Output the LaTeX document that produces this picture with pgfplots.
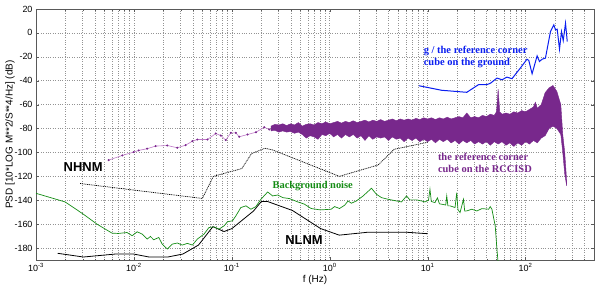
\documentclass[border=0pt]{standalone}
\usepackage{fontspec}
\setmainfont{Liberation Sans}
\newfontfamily\tnr{Liberation Serif}
\usepackage{pgfplots}
\pgfplotsset{compat=1.18}
\definecolor{mgreen}{RGB}{20,140,20}
\definecolor{mblue}{RGB}{10,30,240}
\definecolor{mpurple}{RGB}{120,40,140}
\definecolor{lpurple}{RGB}{190,120,200}
\begin{document}
\begin{tikzpicture}
\begin{axis}[
  scale only axis, width=558bp, height=251bp,
  xmode=log, xmin=1e-3, xmax=500, ymin=-190, ymax=20,
  xtick={0.001,0.01,0.1,1,10,100},
  xticklabels={10\textsuperscript{-3},10\textsuperscript{-2},10\textsuperscript{-1},10\textsuperscript{0},10\textsuperscript{1},10\textsuperscript{2}},
  minor xtick={0.002,0.003,0.004,0.005,0.006,0.007,0.008,0.009,0.02,0.03,0.04,0.05,0.06,0.07,0.08,0.09,0.2,0.3,0.4,0.5,0.6,0.7,0.8,0.9,2,3,4,5,6,7,8,9,20,30,40,50,60,70,80,90,200,300,400},
  ytick={-180,-160,-140,-120,-100,-80,-60,-40,-20,0,20},
  yticklabels={-180,-160,-140,-120,-100,-80,-60,-40,-20,0,20},
  xmajorgrids, xminorgrids, ymajorgrids,
  major grid style={dotted, gray!85, line width=0.5pt},
  minor grid style={dotted, gray!85, line width=0.5pt},
  axis line style={gray!70!black},
  tick style={gray!70!black},
  tick align=inside,
  major tick length=3bp, minor tick length=1.5bp,
  ticklabel style={font=\fontsize{9}{10}\selectfont},
  xlabel={f (Hz)}, ylabel={PSD [10*LOG M**2/S**4/Hz] (dB)},
  label style={font=\fontsize{9}{10}\selectfont},
  every axis x label/.style={at={(axis description cs:0.5,0)}, anchor=center, yshift=-20bp},
  every axis y label/.style={at={(axis description cs:0,0.5)}, xshift=-26bp, rotate=90, anchor=center},
]
% NLNM
\addplot[black, line width=0.8pt] coordinates {
(0.001667,-184.4) (0.003049,-187.5) (0.006494,-185.0) (0.009901,-185.0) (0.014286,-187.5)
(0.022222,-187.5) (0.031646,-185.0) (0.045662,-177.5) (0.064103,-162.1) (0.083333,-166.2)
(0.1,-163.75) (0.16667,-149.0) (0.2,-141.1) (0.23256,-141.1) (0.41667,-148.6)
(0.80645,-163.7) (1.25,-169.2) (2.5,-166.7) (5.88,-166.7) (10,-168.0)};
% Background noise
\addplot[mgreen, line width=0.7pt] coordinates {
(0.001,-134.2) (0.00198,-141.4) (0.00223,-144.2) (0.00305,-151.7) (0.0042,-160) (0.00597,-167.5)
(0.00693,-167.8) (0.00851,-167) (0.0096,-169.7) (0.0108,-166.4) (0.01213,-168.3) (0.01365,-172.5)
(0.01476,-170.3) (0.01596,-173.1) (0.01795,-171.1) (0.01945,-176.7) (0.02193,-180.8) (0.02466,-176.7)
(0.02773,-175.8) (0.03119,-177.5) (0.03516,-176.1) (0.03954,-177.5) (0.04446,-172.5) (0.052,-168.3)
(0.05848,-162.8) (0.0658,-162.3) (0.0741,-164.2) (0.0834,-161.4) (0.0904,-158) (0.1016,-157.2)
(0.1099,-153.1) (0.1236,-146.1) (0.1393,-144.7) (0.1567,-147.5) (0.1762,-145.3) (0.1982,-139.2)
(0.2323,-133.1) (0.2612,-136.4) (0.2944,-135.6) (0.3311,-137.8) (0.3873,-138.6) (0.4721,-141.4)
(0.5521,-143.3) (0.6457,-146.9) (0.8,-148.1) (1.035,-147.5) (1.12,-145.3) (1.259,-146.9)
(1.419,-144.2) (1.538,-140.6) (1.663,-142.5) (1.871,-140.6) (2.193,-136.4) (2.667,-130)
(3.0,-135) (3.373,-137.8) (3.954,-139.2) (4.81,-140.6) (5.41,-141.4) (6.09,-136.4) (6.58,-139.7)
(7.71,-139.7) (8.67,-140.6) (9.38,-141.4) (10.2,-140) (10.56,-130.8) (10.9,-141) (11.89,-142)
(12.6,-138) (13.2,-143) (13.9,-143.3) (15.3,-144) (15.67,-136.4) (16.1,-144.7) (16.94,-144.7)
(19.05,-146.1) (19.82,-133.6) (20.4,-148) (21.43,-150.3) (23.23,-139.2) (23.9,-149) (25.1,-148.9)
(28.25,-147.5) (31.83,-149) (35.8,-147) (41.97,-147.5) (43.55,-145.3) (45.3,-147.5) (48.98,-161.4)
(51.0,-180.8) (52.8,-195)};
% NHNM
\addplot[black, line width=0.7pt, dash pattern=on 1pt off 0.8pt] coordinates {
(0.002818,-126.0) (0.05,-138.5) (0.0649,-120.0) (0.1266,-113.5) (0.1587,-101.0) (0.2174,-96.5)
(0.2632,-98.0) (1.25,-120.0) (3.125,-110.5) (4.545,-97.4) (10,-91.5)};
% RCCISD thin part
\addplot[lpurple, line width=0.6pt, mark=*, mark size=0.7pt, mark options={mpurple}] coordinates {
(0.00552,-106.4) (0.00762,-102.5) (0.00995,-99.7) (0.0112,-98.3) (0.01365,-96.9) (0.01663,-94.7)
(0.02193,-94.2) (0.02773,-96.1) (0.03373,-93.9) (0.03954,-90.6) (0.04446,-89.2) (0.05636,-89.2)
(0.06855,-84.2) (0.0771,-85.8) (0.0867,-89.7) (0.0977,-83.6) (0.1099,-83.6) (0.1189,-86.9)
(0.1449,-85) (0.1762,-83.1) (0.2143,-78.9) (0.2415,-80.8) (0.2716,-79.4) (0.3184,-79.4)};
% RCCISD dense band
\addplot[draw=mpurple, fill=mpurple, line width=0.4pt] coordinates {
(0.2512,-78) (0.2754,-76.5) (0.3020,-77) (0.3311,-76) (0.3631,-77.5) (0.3981,-76) (0.4365,-77)
(0.4786,-75) (0.5248,-78) (0.5754,-76.5) (0.6310,-76) (0.6918,-77) (0.7586,-75) (0.8318,-76)
(0.9120,-74.5) (1,-76) (1.096,-75) (1.202,-74) (1.318,-75.5) (1.445,-74) (1.585,-75) (1.738,-73.5)
(1.905,-75) (2.089,-74) (2.291,-73) (2.512,-74.5) (2.754,-73) (3.020,-74) (3.311,-72.5) (3.631,-74)
(3.981,-73) (4.365,-72) (4.786,-73.5) (5.248,-72) (5.754,-73) (6.310,-72) (6.918,-73) (7.586,-71.5)
(8.318,-72.5) (9.120,-71) (10,-72) (10.96,-71) (12.02,-72.5) (13.18,-71) (14.45,-72) (15.85,-70.5)
(17.38,-72) (19.05,-71) (20.89,-70) (22.91,-71) (25.12,-67) (27.54,-71) (30.20,-70) (33.11,-71)
(36.31,-69) (39.81,-70) (43.65,-68) (47.86,-69) (50.5,-66) (52.48,-47) (54.5,-66) (57.54,-68)
(63.10,-67) (69.18,-68) (75.86,-66) (83.18,-67) (91.20,-65) (100,-66) (109.6,-64) (120.2,-62)
(126,-58) (131.8,-63) (144.5,-60) (158.5,-50) (173.8,-46) (190.5,-44) (208.9,-49) (229.1,-60)
(239.9,-85) (251.2,-100) (263.0,-124)
(263.0,-128) (251.2,-118) (239.9,-100) (229.1,-85) (208.9,-80) (190.5,-78) (173.8,-80) (158.5,-86)
(144.5,-88) (131.8,-92) (120.2,-90) (109.6,-93) (100,-91) (91.20,-94) (83.18,-92) (75.86,-95)
(69.18,-92) (63.10,-94) (57.54,-91) (52.48,-93) (47.86,-91) (43.65,-94) (39.81,-91) (36.31,-93)
(33.11,-91) (30.20,-93) (27.54,-90) (25.12,-92) (22.91,-90) (20.89,-93) (19.05,-90) (17.38,-92)
(15.85,-89) (14.45,-91) (13.18,-89) (12.02,-92) (10.96,-89) (10,-91) (9.120,-89) (8.318,-91)
(7.586,-88) (6.918,-90) (6.310,-88) (5.754,-91) (5.248,-88) (4.786,-89) (4.365,-87) (3.981,-90)
(3.631,-87) (3.311,-88) (3.020,-87) (2.754,-89) (2.512,-86) (2.291,-90) (2.089,-86) (1.905,-88)
(1.738,-85) (1.585,-87) (1.445,-85) (1.318,-88) (1.202,-85) (1.096,-87) (1,-84) (0.9120,-86)
(0.8318,-85) (0.7586,-89) (0.6918,-87) (0.6310,-86) (0.5754,-88) (0.5248,-85) (0.4786,-83)
(0.4365,-84) (0.3981,-82.5) (0.3631,-83) (0.3311,-82) (0.3020,-83) (0.2754,-81.5) (0.2512,-82)};
% ground corner cube
\addplot[mblue, line width=1pt] coordinates {
(8.15,-44.2) (13.9,-48) (25.1,-49.7) (33.1,-43.3) (40.3,-43.3) (44,-42) (51.0,-37.8) (57.4,-39.2)
(64.6,-37) (72.7,-38.3) (88.5,-29.4) (103.5,-22) (107.9,-23) (116.6,-34.2) (131.2,-19.2)
(138.6,-23.9) (147.6,-22) (159.6,-21.1) (179.6,1.1) (194.5,6.7) (202.2,2.5) (210.4,3.1)
(222.2,-13.6) (232.8,1.1) (242.5,-6.4) (255.9,8.1) (266.6,-7.2)};
% annotations
\node[font=\fontsize{13}{14}\selectfont\bfseries] at (axis cs:0.00303,-112.5) {NHNM};
\node[font=\fontsize{13}{14}\selectfont\bfseries] at (axis cs:0.547,-173.3) {NLNM};
\node[font=\tnr\fontsize{10.5}{12}\selectfont\bfseries, text=mgreen] at (axis cs:0.67,-127.9) {Background noise};
\node[font=\tnr\fontsize{10.5}{12}\selectfont\bfseries, text=mblue, anchor=west, inner sep=0pt, align=left] at (axis cs:9.1,-20.4) {g / the reference corner\\cube on the ground};
\node[font=\tnr\fontsize{10.5}{12}\selectfont\bfseries, text=mpurple, anchor=west, inner sep=0pt, align=left] at (axis cs:12.7,-108.75) {the reference corner\\cube on the RCCISD};
\end{axis}
\pgfresetboundingbox
\path[use as bounding box] (-36bp,-31bp) rectangle (564bp,260bp);
\end{tikzpicture}
\end{document}
